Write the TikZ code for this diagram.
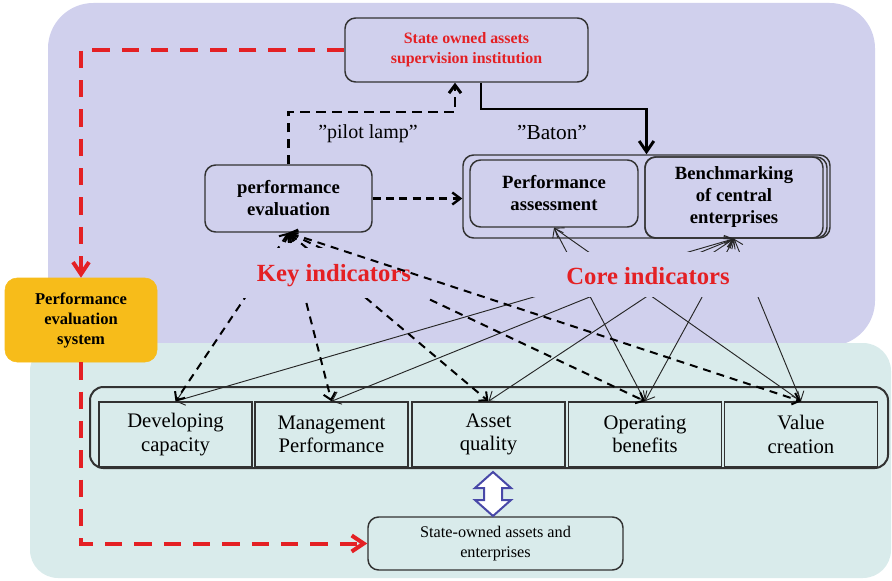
\documentclass[tikz,border=0pt]{standalone}
\usepackage{fontspec}
\setmainfont{Liberation Serif}
\usetikzlibrary{arrows.meta,calc}
\definecolor{lav}{RGB}{208,208,237}
\definecolor{tealbg}{RGB}{217,235,235}
\definecolor{boxc}{RGB}{50,50,50}
\definecolor{redc}{RGB}{228,32,36}
\definecolor{yel}{RGB}{247,188,26}
\definecolor{dblue}{RGB}{72,72,168}
\begin{document}
\begin{tikzpicture}[x=0.75pt,y=-0.75pt,
  box/.style={draw=boxc,line width=1.1pt,rounded corners=8pt,align=center,inner sep=0pt},
  cell/.style={draw=boxc,line width=1.1pt,minimum width=114.75pt,minimum height=48.75pt,align=center,inner sep=0pt,font=\fontsize{15.5}{17.5}\selectfont},
  reddash/.style={draw=redc,line width=3pt,dash pattern=on 13pt off 9pt,-{Straight Barb[length=9pt,width=12pt]}},
  pilot/.style={draw=black,line width=2.2pt,dash pattern=on 7pt off 5pt,-{Straight Barb[length=6pt,width=9pt]}},
  baton/.style={draw=black,line width=2.2pt,-{Straight Barb[length=8pt,width=11pt]}},
  midash/.style={draw=black,line width=1.8pt,dash pattern=on 6pt off 4pt,-{Straight Barb[length=6pt,width=9pt]}},
  keyline/.style={draw=black,line width=1.5pt,dash pattern=on 6pt off 4.5pt,{Straight Barb[length=5pt,width=9pt]}-{Straight Barb[length=5pt,width=9pt]}},
  coreline/.style={draw=black!85,line width=0.7pt,{Straight Barb[length=6pt,width=9pt]}-{Straight Barb[length=6pt,width=10pt]}},
  indic/.style={font=\bfseries\fontsize{18.5}{20}\selectfont,text=redc,inner sep=0pt}
]
\useasboundingbox (0,0) rectangle (892,581);
% backgrounds
\fill[lav,rounded corners=34pt] (48,3) rectangle (875,346);
\fill[tealbg,rounded corners=21pt] (30,343) rectangle (891,578);

% nodes
\node[box,minimum width=182.25pt,minimum height=48pt,text=redc,font=\bfseries\fontsize{11.9}{15}\selectfont] (state) at (466.5,50) {State owned assets\\supervision institution};
\node[box,minimum width=125.25pt,minimum height=50.25pt,font=\bfseries\fontsize{14}{16.5}\selectfont] (pe) at (288.5,198.5) {performance\\evaluation};
\node[box,minimum width=275.25pt,minimum height=62.25pt] (grp) at (646.5,196.5) {};
\node[box,minimum width=126pt,minimum height=50.25pt,font=\bfseries\fontsize{14}{16.5}\selectfont] (pa) at (554,193.5) {Performance\\assessment};
\draw[boxc,line width=1.1pt,rounded corners=8pt] (645,157) rectangle (827,238);
\node[box,minimum width=133.5pt,minimum height=60.75pt,font=\bfseries\fontsize{14}{16.5}\selectfont] (bm) at (734,197.5) {Benchmarking\\of central\\enterprises};
\node[draw=yel,fill=yel,rounded corners=9pt,minimum width=114pt,minimum height=63pt,align=center,inner sep=0pt,font=\bfseries\fontsize{12.4}{15}\selectfont] (ysys) at (81,320) {Performance\\evaluation\\system};
\node[box,line width=1.5pt,rounded corners=10pt,minimum width=598.5pt,minimum height=60.75pt] (grpb) at (489,427.5) {};
\node[cell] (c1) at (175.5,434.5) {Developing\\capacity};
\node[cell] (c2) at (331.5,434.5) {Management\\Performance};
\node[cell] (c3) at (488.5,434.5) {Asset\\quality};
\node[cell] (c4) at (645,434.5) {Operating\\benefits};
\node[cell] (c5) at (801,434.5) {Value\\creation};
\node[box,minimum width=191.25pt,minimum height=39.75pt,font=\fontsize{12.2}{15}\selectfont] (soe) at (495.5,543.5) {State-owned assets and\\enterprises};

% labels
\node[font=\fontsize{15}{17}\selectfont] (pilotlbl) at (368,134) {”pilot lamp”};
\node[font=\fontsize{16}{18}\selectfont] (batonlbl) at (552,133) {”Baton”};

% red dashed feedback
\draw[reddash] (state.west) -| (ysys.north);
\draw[reddash] (ysys.south) |- (soe.west);

% pilot lamp
\coordinate (pilotx) at (455,112);
\draw[pilot] (pe.north) |- (pilotx) -- (pilotx |- state.south);
% baton
\coordinate (batx) at (481,109);
\draw[baton] (batx |- state.south) -- (batx) -| (grp.north);
% pe -> group
\draw[midash] (pe.east) -- (pe.east -| grp.west);

% core indicator lines
\draw[coreline] (bm.south) -- (c1.north);
\draw[coreline] (bm.south) -- (c2.north);
\draw[coreline] (bm.south) -- (c3.north);
\draw[coreline] (bm.south) -- (c4.north);
\draw[coreline] (bm.south) -- (c5.north);
\draw[coreline] (pa.south) -- (c4.north);
\draw[coreline] (pa.south) -- (c5.north);
\fill[lav] (524,252) rectangle (768,297);
\node[indic] (core) at (648,276) {Core indicators};

% key indicator lines
\draw[keyline] (pe.south) -- (c1.north);
\draw[keyline] (pe.south) -- (c2.north);
\draw[keyline] (pe.south) -- (c3.north);
\draw[keyline] (pe.south) -- (c4.north);
\fill[lav] (238,248) rectangle (432,298);
\node[indic] (key) at (334,276) {Key indicators};
\draw[keyline] (pe.south) -- (c5.north);

% hollow double arrow
\draw[dblue,line width=1.5pt,fill=white,line join=miter]
  (493,472) -- (511,488) -- (502,488) -- (502,500) -- (511,500) -- (493,516)
  -- (475,500) -- (484,500) -- (484,488) -- (475,488) -- cycle;
\end{tikzpicture}
\end{document}
